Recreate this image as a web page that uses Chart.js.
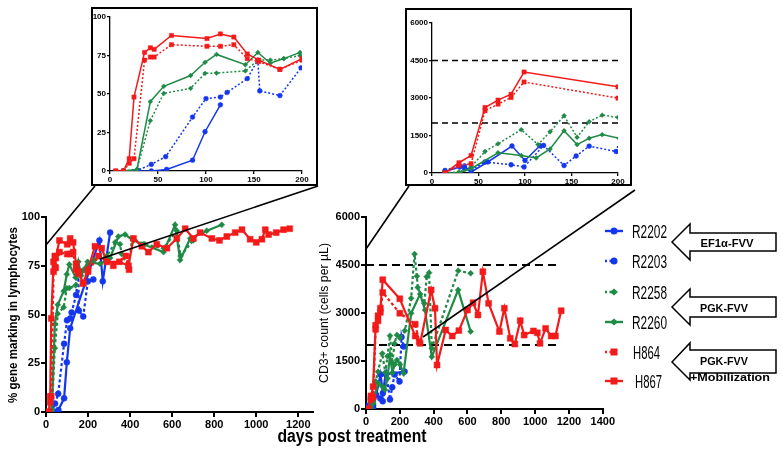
<!DOCTYPE html>
<html>
<head>
<meta charset="utf-8">
<script src="https://cdn.jsdelivr.net/npm/chart.js@4.4.1/dist/chart.umd.min.js"></script>
<style>
  body { margin: 0; background: #fff; width: 783px; height: 459px; position: relative; overflow: hidden; }
  canvas, .frame, svg { position: absolute; }
  .frame { border: 2px solid #000; box-sizing: border-box; background: #fff; }
</style>
</head>
<body>
<canvas id="markMain" width="300" height="230" style="left:20px;top:205px"></canvas>
<canvas id="cd3Main" width="280" height="230" style="left:336px;top:205px"></canvas>
<div class="frame" style="left:91px;top:7px;width:227px;height:179px"></div>
<canvas id="markInset" width="223" height="175" style="left:93px;top:9px"></canvas>
<div class="frame" style="left:405px;top:8px;width:227px;height:178px"></div>
<canvas id="cd3Inset" width="223" height="174" style="left:407px;top:10px"></canvas>

<svg width="783" height="459" style="left:0;top:0" font-family="'Liberation Sans Narrow','Liberation Sans',Arial">
  <!-- zoom connectors -->
  <g stroke="#000" stroke-width="1.6">
    <line x1="46" y1="245" x2="95" y2="186"/>
    <line x1="100" y1="259" x2="318" y2="186"/>
    <line x1="366" y1="249" x2="409" y2="186"/>
    <line x1="423" y1="337" x2="635" y2="190"/>
  </g>
  <!-- axis titles -->
  <text transform="translate(17,315) rotate(-90)" text-anchor="middle" font-family="'Liberation Sans',Arial" font-weight="bold" font-size="13" textLength="176" lengthAdjust="spacingAndGlyphs">% gene marking in lymphocytes</text>
  <text transform="translate(328,313) rotate(-90)" text-anchor="middle" font-family="'Liberation Sans',Arial" font-size="13" textLength="140" lengthAdjust="spacingAndGlyphs">CD3+ count (cells per µL)</text>
  <text x="352" y="442" text-anchor="middle" font-weight="bold" font-size="18" textLength="149" lengthAdjust="spacingAndGlyphs">days post treatment</text>
  <!-- legend -->
  <g id="legend"></g>
  <!-- vector arrows -->
  <g fill="#fff" stroke="#000" stroke-width="1.5">
    <path d="M672,242 L690,224 L690,233 L776,233 L776,251 L690,251 L690,260 Z"/>
    <path d="M672,307 L690,289 L690,297 L776,297 L776,317 L690,317 L690,325 Z"/>
    <path d="M672,362 L690,343 L690,350 L776,350 L776,373 L690,373 L690,380 Z"/>
  </g>
  <g font-family="'Liberation Sans',Arial" font-weight="bold" font-size="11" text-anchor="middle">
    <text x="727" y="246.5" textLength="53" lengthAdjust="spacingAndGlyphs">EF1α-FVV</text>
    <text x="724" y="311.5" textLength="48" lengthAdjust="spacingAndGlyphs">PGK-FVV</text>
    <text x="724" y="365" textLength="48" lengthAdjust="spacingAndGlyphs">PGK-FVV</text>
    <text x="730" y="381" textLength="80" lengthAdjust="spacingAndGlyphs">+Mobilization</text>
  </g>
</svg>

<script>
// ---- % gene marking in lymphocytes: [day, %] ----
var markR2202 = [[14,0],[29,0],[43,0],[59,1],[86,7],[99,25.5],[115,43],[254,88],[270,67],[305,92]];
var markR2203 = [[14,0],[29,0.5],[43,4.3],[58,9.3],[86,35],[100,47],[115,48],[122,51],[143,60],[154,72],[156,52],[177,49],[199,67],[225,68]];
var markR2258 = [[14,0],[28,1],[42,32.7],[56,50.4],[84,53.7],[99,63.4],[111,63.6],[141,65],[154,72],[167,72],[181,73],[198,75],[230,78],[290,80],[329,87],[352,86],[360,81],[392,74],[410,89],[470,86],[560,84],[622,93],[640,80],[700,88]];
var markR2260 = [[14,0],[28,1],[42,45],[56,55],[84,62],[99,70.6],[111,75.7],[141,69],[154,77],[167,70],[181,73],[198,77],[257,76],[305,79],[344,90],[376,91],[416,88],[463,86],[559,82],[614,96],[638,78],[686,89],[765,93],[836,96]];
var markH864 = [[6,0],[14,0],[20,5],[25,8],[36,72],[42,74],[46,74],[64,82],[101,81],[115,81],[129,82],[143,73],[155,71],[177,66],[200,72],[250,80],[320,75],[380,80],[395,73]];
var markH867 = [[6,0],[14,0],[20,8],[25,48],[36,77],[42,80],[46,79],[64,88],[101,86],[115,89],[129,87],[143,76],[155,72],[177,66],[200,73],[233,85],[265,84],[289,77],[349,77],[392,75],[416,89],[456,85],[487,82],[527,86],[575,84],[622,89],[662,94],[701,89],[733,92],[789,89],[825,88],[860,90],[900,92],[932,93.5],[971,88.6],[1000,87],[1027,88.6],[1043,93.5],[1059,91],[1095,92],[1130,93.5],[1159,94]];

// ---- CD3+ count (cells per uL): [day, count] ----
var cd3R2202 = [[14,60],[30,240],[35,280],[42,40],[60,440],[86,1080],[100,500],[116,1090],[228,1170]];
var cd3R2203 = [[14,100],[29,300],[35,180],[42,120],[57,440],[85,330],[99,240],[120,1100],[142,300],[155,680],[169,1075],[198,860],[210,2250],[222,1950]];
var cd3R2258 = [[14,0],[29,40],[42,240],[57,860],[71,1166],[96,1735],[114,1137],[127,1650],[142,2290],[156,1430],[169,2050],[183,2315],[200,2225],[230,2450],[267,3460],[287,4840],[301,4150],[306,3800],[345,3300],[359,4135],[373,4260],[389,1900],[545,4320],[619,4240]];
var cd3R2260 = [[14,0],[29,0],[42,170],[71,810],[96,700],[112,600],[127,960],[142,1690],[156,1135],[169,1390],[183,1535],[201,1390],[222,1115],[267,2990],[320,3590],[349,3090],[389,1630],[545,3720],[619,2420]];
var cd3H864 = [[14,0],[29,300],[42,370],[57,2490],[71,2755],[85,3020],[99,3640],[200,2995],[291,2650],[315,2100]];
var cd3H867 = [[14,0],[29,410],[42,700],[57,2620],[71,2915],[85,3150],[99,4040],[200,3445],[291,2280],[320,2050],[385,3720],[408,3150],[420,1375],[471,2470],[510,2280],[549,2450],[600,3090],[633,3320],[662,2940],[691,4290],[725,3300],[789,2420],[818,3150],[853,2210],[880,2030],[912,2760],[935,2310],[990,2440],[1013,2380],[1029,2050],[1062,2520],[1095,2280],[1120,2280],[1154,3070]];

var cd3Limits = [4500, 2000];
var cd3LimitEnd = 1140;
var insetDays = 212;

var BLUE = '#1437ee', GREEN = '#1f8a46', RED = '#f21a1a';

var seriesInfo = [
  { name: 'H867', color: RED, style: 'rect', dotted: false, mark: markH867, cd3: cd3H867 },
  { name: 'H864', color: RED, style: 'rect', dotted: true, mark: markH864, cd3: cd3H864 },
  { name: 'R2260', color: GREEN, style: 'rectRot', dotted: false, mark: markR2260, cd3: cd3R2260 },
  { name: 'R2258', color: GREEN, style: 'rectRot', dotted: true, mark: markR2258, cd3: cd3R2258 },
  { name: 'R2203', color: BLUE, style: 'circle', dotted: true, mark: markR2203, cd3: cd3R2203 },
  { name: 'R2202', color: BLUE, style: 'circle', dotted: false, mark: markR2202, cd3: cd3R2202 }
];

function toXY(pts) {
  return pts.map(function (p) { return { x: p[0], y: p[1] }; });
}

function makeSet(s, pts, inset) {
  var r = s.style == 'rect' ? (inset ? 3 : 4.2) : (inset ? 2.4 : 3);
  return {
    label: s.name,
    data: toXY(inset ? pts.filter(function (p) { return p[0] <= insetDays; }) : pts),
    showLine: true,
    borderColor: s.color,
    backgroundColor: s.color,
    borderWidth: inset ? 1.5 : 2.2,
    borderDash: s.dotted ? (inset ? [2, 2] : [3, 2.5]) : [],
    pointStyle: s.style,
    pointRadius: r,
    pointBorderWidth: 0.5,
    pointBorderColor: s.color
  };
}

function limitSets(end, inset) {
  return cd3Limits.map(function (v) {
    return {
      label: 'limit ' + v,
      data: toXY([[0, v], [end, v]]),
      showLine: true,
      borderColor: '#000',
      borderWidth: inset ? 1.6 : 2,
      borderDash: inset ? [6, 4] : [8, 5],
      pointRadius: 0
    };
  });
}

function axis(min, max, step, font, tickLen, lw, fixed, isX) {
  return {
    type: 'linear',
    min: min,
    max: max,
    ticks: {
      stepSize: step, color: '#000', font: font, padding: 1, maxRotation: 0, autoSkip: false, includeBounds: false,
      callback: function (v) { return String(v); }
    },
    grid: { drawOnChartArea: false, drawTicks: true, tickLength: tickLen, color: '#000', lineWidth: lw },
    border: { display: true, color: '#000', width: lw },
    afterBuildTicks: function (s) {
      s.ticks = s.ticks.filter(function (t) { return t.value % step === 0; });
    },
    afterFit: function (s) {
      if (isX) s.height = fixed; else s.width = fixed;
    }
  };
}

var mainFont = { family: "'Liberation Sans Narrow','Liberation Sans',Arial", size: 11, weight: 'bold' };
var insetFont = { family: "'Liberation Sans Narrow','Liberation Sans',Arial", size: 8, weight: 'bold' };

function draw(id, datasets, xs, ys, pad) {
  new Chart(document.getElementById(id), {
    type: 'scatter',
    data: { datasets: datasets },
    options: {
      responsive: false,
      animation: false,
      devicePixelRatio: 1,
      layout: { padding: pad },
      plugins: { legend: { display: false }, tooltip: { enabled: false } },
      scales: { x: xs, y: ys }
    }
  });
}

draw('markMain',
  seriesInfo.map(function (s) { return makeSet(s, s.mark, false); }),
  axis(0, 1270, 200, mainFont, 5, 2, 23, true),
  axis(0, 100, 25, mainFont, 5, 2, 26, false),
  { top: 12, right: 7, left: 0, bottom: 0 });

draw('cd3Main',
  seriesInfo.map(function (s) { return makeSet(s, s.cd3, false); }).concat(limitSets(cd3LimitEnd, false)),
  axis(0, 1400, 200, mainFont, 5, 2, 26, true),
  axis(0, 6000, 1500, mainFont, 5, 2, 30, false),
  { top: 12, right: 10, left: 0, bottom: 0 });

draw('markInset',
  seriesInfo.map(function (s) { return makeSet(s, s.mark, true); }),
  axis(0, 200, 50, insetFont, 3, 1.3, 13, true),
  axis(0, 100, 25, insetFont, 3, 1.3, 17, false),
  { top: 8, right: 14, left: 0, bottom: 0 });

draw('cd3Inset',
  seriesInfo.map(function (s) { return makeSet(s, s.cd3, true); }).concat(limitSets(200, true)),
  axis(0, 200, 50, insetFont, 3, 1.3, 11, true),
  axis(0, 6000, 1500, insetFont, 3, 1.3, 25, false),
  { top: 13, right: 12, left: 0, bottom: 0 });

// legend rows: marker sample + name
var legendRows = [
  { s: seriesInfo[5], y: 231, tx: 632, tw: 35 },
  { s: seriesInfo[4], y: 261, tx: 632, tw: 35 },
  { s: seriesInfo[3], y: 292, tx: 632, tw: 35 },
  { s: seriesInfo[2], y: 322, tx: 632, tw: 35 },
  { s: seriesInfo[1], y: 352, tx: 633, tw: 27 },
  { s: seriesInfo[0], y: 381, tx: 635, tw: 27 }
];
var NS = 'http://www.w3.org/2000/svg';
var lg = document.getElementById('legend');
function el(tag, attrs) {
  var e = document.createElementNS(NS, tag);
  for (var k in attrs) e.setAttribute(k, attrs[k]);
  lg.appendChild(e);
  return e;
}
legendRows.forEach(function (row) {
  var c = row.s.color, y = row.y, mx = 614;
  if (row.s.dotted) {
    el('line', { x1: 605, y1: y, x2: 612, y2: y, stroke: c, 'stroke-width': 2.4, 'stroke-dasharray': '2,2.5' });
  } else {
    el('line', { x1: 605, y1: y, x2: 623, y2: y, stroke: c, 'stroke-width': 2.4 });
  }
  if (row.s.style == 'circle') el('circle', { cx: mx, cy: y, r: 3.5, fill: c });
  if (row.s.style == 'rect') el('rect', { x: mx - 3.5, y: y - 3.5, width: 7, height: 7, fill: c });
  if (row.s.style == 'rectRot') el('path', { d: 'M' + (mx - 4) + ',' + y + ' L' + mx + ',' + (y - 3.5) + ' L' + (mx + 4) + ',' + y + ' L' + mx + ',' + (y + 3.5) + ' Z', fill: c });
  var t = el('text', { x: row.tx, y: y + 6.5, 'font-size': 19, textLength: row.tw, lengthAdjust: 'spacingAndGlyphs' });
  t.textContent = row.s.name;
});
</script>
</body>
</html>
